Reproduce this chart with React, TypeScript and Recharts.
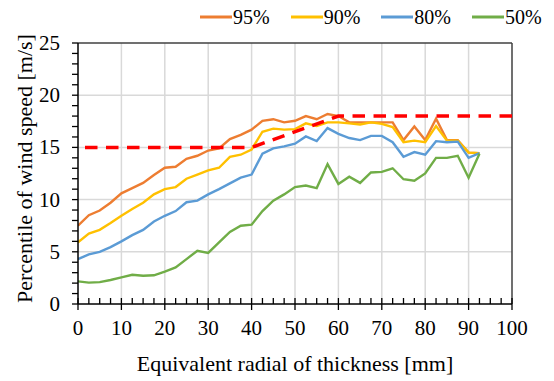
import { CartesianGrid, Label, Line, LineChart, ReferenceLine, XAxis, YAxis } from "recharts";

// thickness [mm]
const thickness = [
  0, 2.5, 5, 7.5, 10, 12.5, 15, 17.5, 20, 22.5, 25, 27.5, 30, 32.5, 35, 37.5, 40, 42.5, 45, 47.5,
  50, 52.5, 55, 57.5, 60, 62.5, 65, 67.5, 70, 72.5, 75, 77.5, 80, 82.5, 85, 87.5, 90, 92.5,
];

const p95 = [
  7.5, 8.5, 8.95, 9.7, 10.6, 11.1, 11.6, 12.35, 13.05, 13.15, 13.9, 14.2, 14.7, 14.9, 15.8, 16.2, 16.7, 17.55, 17.7, 17.4,
  17.55, 18.0, 17.7, 18.2, 18.0, 17.4, 17.4, 17.4, 17.4, 17.4, 15.7, 17.0, 15.7, 17.75, 15.7, 15.7, 14.5, 14.45,
];
const p90 = [
  5.9, 6.75, 7.1, 7.75, 8.45, 9.1, 9.7, 10.5, 11.0, 11.2, 12.0, 12.4, 12.8, 13.05, 14.1, 14.3, 14.8, 16.5, 16.8, 16.7,
  16.75, 17.3, 17.05, 17.4, 17.4, 17.3, 17.2, 17.4, 17.25, 16.95, 15.5, 15.65, 15.5, 17.05, 15.65, 15.65, 14.5, 14.45,
];
const p80 = [
  4.3, 4.75, 5.0, 5.45, 6.0, 6.6, 7.1, 7.9, 8.45, 8.9, 9.75, 9.9, 10.5, 11.0, 11.55, 12.1, 12.4, 14.4, 14.9, 15.1,
  15.35, 16.05, 15.6, 16.85, 16.3, 15.9, 15.7, 16.1, 16.1, 15.5, 14.1, 14.55, 14.3, 15.6, 15.5, 15.55, 14.0, 14.45,
];
const p50 = [
  2.17, 2.05, 2.1, 2.3, 2.55, 2.8, 2.7, 2.75, 3.1, 3.5, 4.3, 5.1, 4.9, 5.9, 6.9, 7.5, 7.6, 8.9, 9.9, 10.5,
  11.2, 11.35, 11.1, 13.4, 11.5, 12.2, 11.6, 12.6, 12.65, 13.0, 11.95, 11.8, 12.5, 14.0, 14.0, 14.2, 12.1, 14.4,
];

// red dashed limit
const limitX = [0, 40, 60, 100];
const limitY = [15, 15, 18, 18];

const xTicks = [
  0, 2.5, 5, 7.5, 10, 12.5, 15, 17.5, 20, 22.5, 25, 27.5, 30, 32.5, 35, 37.5, 40, 42.5, 45, 47.5,
  50, 52.5, 55, 57.5, 60, 62.5, 65, 67.5, 70, 72.5, 75, 77.5, 80, 82.5, 85, 87.5, 90, 92.5, 95, 97.5, 100,
];
const yTicks = [0, 1, 2, 3, 4, 5, 6, 7, 8, 9, 10, 11, 12, 13, 14, 15, 16, 17, 18, 19, 20, 21, 22, 23, 24, 25];
const gridX = [10, 20, 30, 40, 50, 60, 70, 80, 90];
const gridY = [5, 10, 15, 20];

const series = [
  { key: "p95", name: "95%", color: "#ED7D31" },
  { key: "p90", name: "90%", color: "#FFC000" },
  { key: "p80", name: "80%", color: "#5B9BD5" },
  { key: "p50", name: "50%", color: "#70AD47" },
];

const rows = thickness.map((x, i) => ({ x, p95: p95[i], p90: p90[i], p80: p80[i], p50: p50[i] }));
const limitRows = limitX.map((x, i) => ({ x, limit: limitY[i] }));

const FONT = "'Liberation Serif', 'Times New Roman', serif";

function XTick(props: any) {
  const { x, y, payload } = props;
  const major = payload.value % 10 === 0;
  return (
    <g>
      <line x1={x} x2={x} y1={y - 6} y2={major ? y + 6 : y} stroke="#000" strokeWidth={1.3} />
      {major && (
        <text x={x} y={y + 31} textAnchor="middle" fontSize={21} fontFamily={FONT} fill="#000">
          {payload.value}
        </text>
      )}
    </g>
  );
}

function YTick(props: any) {
  const { x, y, payload } = props;
  const major = payload.value % 5 === 0;
  return (
    <g>
      <line x1={x - 6} x2={x} y1={y} y2={y} stroke="#000" strokeWidth={1.3} />
      {major && (
        <text x={x - 18} y={y + 7} textAnchor="end" fontSize={21} fontFamily={FONT} fill="#000">
          {payload.value}
        </text>
      )}
    </g>
  );
}

function YTitle(props: any) {
  const { viewBox } = props;
  const cx = viewBox.x + 24;
  const cy = viewBox.y + viewBox.height / 2 - 5;
  return (
    <text
      x={cx}
      y={cy}
      transform={`rotate(-90, ${cx}, ${cy})`}
      textAnchor="middle"
      dominantBaseline="central"
      fontSize={22}
      fontFamily={FONT}
      fill="#000"
    >
      Percentile of wind speed [m/s]
    </text>
  );
}

function LegendRow() {
  return (
    <div
      style={{
        position: "absolute",
        left: 200,
        top: 4,
        display: "flex",
        fontFamily: FONT,
        fontSize: 20,
        lineHeight: "26px",
      }}
    >
      {series.map((s) => (
        <div key={s.key} style={{ display: "flex", alignItems: "center", marginRight: 21 }}>
          <svg width={32} height={4} style={{ display: "block" }}>
            <line x1={0} x2={32} y1={2} y2={2} stroke={s.color} strokeWidth={3} />
          </svg>
          <span style={{ marginLeft: 1 }}>{s.name}</span>
        </div>
      ))}
    </div>
  );
}

export default function App() {
  return (
    <div style={{ position: "absolute", left: 0, top: 0, width: 554, height: 381, background: "#fff" }}>
      <LineChart width={554} height={381} data={rows} margin={{ top: 43, right: 42, bottom: 0, left: 0 }}>
        <CartesianGrid
          verticalValues={gridX}
          horizontalValues={gridY}
          stroke="#d9d9d9"
          strokeWidth={1.5}
        />
        <XAxis
          dataKey="x"
          type="number"
          domain={[0, 100]}
          ticks={xTicks}
          interval={0}
          height={77}
          tickSize={0}
          tickMargin={0}
          tickLine={false}
          tick={<XTick />}
          axisLine={{ stroke: "#000", strokeWidth: 1.5 }}
          allowDataOverflow
        >
          <Label
            value="Equivalent radial of thickness [mm]"
            position="insideBottom"
            offset={10}
            fontSize={22}
            fontFamily={FONT}
            fill="#000"
          />
        </XAxis>
        <YAxis
          type="number"
          domain={[0, 25]}
          ticks={yTicks}
          interval={0}
          width={78}
          tickSize={0}
          tickMargin={0}
          tickLine={false}
          tick={<YTick />}
          axisLine={{ stroke: "#000", strokeWidth: 1.5 }}
          allowDataOverflow
        >
          <Label content={<YTitle />} />
        </YAxis>
        <ReferenceLine y={25} stroke="#404040" strokeWidth={1.5} />
        <ReferenceLine x={100} stroke="#404040" strokeWidth={1.5} />
        {series.map((s) => (
          <Line
            key={s.key}
            type="linear"
            dataKey={s.key}
            name={s.name}
            stroke={s.color}
            strokeWidth={2.4}
            dot={false}
            activeDot={false}
            isAnimationActive={false}
          />
        ))}
        <Line
          data={limitRows}
          type="linear"
          dataKey="limit"
          stroke="#FF0000"
          strokeWidth={3.5}
          strokeDasharray="12.5 8.5"
          strokeDashoffset={14}
          dot={false}
          activeDot={false}
          legendType="none"
          isAnimationActive={false}
        />
      </LineChart>
      <LegendRow />
    </div>
  );
}
